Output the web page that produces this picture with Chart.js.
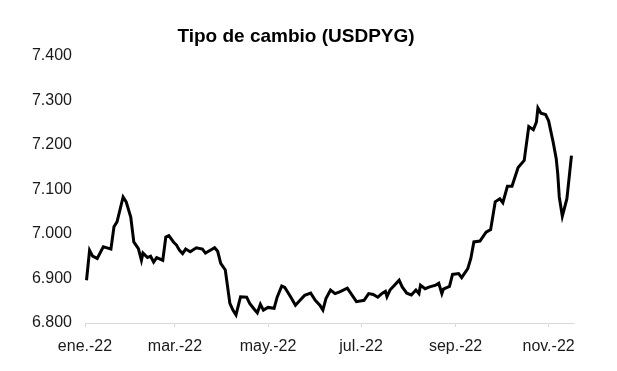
<!DOCTYPE html>
<html>
<head>
<meta charset="utf-8">
<script src="https://cdn.jsdelivr.net/npm/chart.js@4"></script>
<style>
  html, body { margin: 0; padding: 0; background: #fff; }
  #wrap { width: 617px; height: 371px; position: relative; }
</style>
</head>
<body>
<div id="wrap"><canvas id="fxChart"></canvas></div>
<script>
// days since 1 Jan 2022 and USD/PYG rate (thousands)
const days = [1, 3, 5, 8, 12, 15, 17, 19, 21, 25, 27, 30, 32, 35, 37, 38, 41, 43, 45, 47,
  51, 53, 55, 58, 60, 62, 64, 66, 69, 73, 77, 79, 83, 85, 87, 89, 92, 95, 97, 99,
  102, 106, 108, 111, 113, 115, 117, 120, 124, 126, 129, 131, 135, 138, 141, 144, 148, 151, 154, 156,
  158, 161, 164, 167, 172, 175, 178, 183, 186, 189, 192, 195, 197, 198, 200, 206, 208, 211, 214, 217,
  219, 220, 223, 226, 230, 232, 234, 235, 239, 241, 245, 247, 251, 253, 255, 259, 263, 266, 269, 272,
  274, 277, 280, 284, 288, 291, 294, 296, 297, 299, 302, 304, 307, 309, 310, 311, 313, 316, 319];
const rates = [6.896, 6.963, 6.950, 6.945, 6.971, 6.968, 6.966, 7.016, 7.027, 7.083, 7.072, 7.038, 6.982, 6.967, 6.941, 6.957, 6.947, 6.950, 6.937, 6.947,
  6.941, 6.993, 6.996, 6.982, 6.975, 6.963, 6.956, 6.966, 6.960, 6.969, 6.966, 6.957, 6.965, 6.969, 6.961, 6.934, 6.919, 6.844, 6.829, 6.818,
  6.859, 6.858, 6.844, 6.831, 6.823, 6.842, 6.829, 6.835, 6.833, 6.858, 6.883, 6.880, 6.858, 6.840, 6.851, 6.862, 6.867, 6.851, 6.840, 6.829,
  6.855, 6.874, 6.866, 6.870, 6.878, 6.863, 6.848, 6.851, 6.866, 6.864, 6.858, 6.867, 6.871, 6.859, 6.874, 6.896, 6.881, 6.867, 6.863, 6.874,
  6.866, 6.885, 6.877, 6.881, 6.885, 6.889, 6.866, 6.876, 6.882, 6.909, 6.911, 6.902, 6.922, 6.945, 6.982, 6.984, 7.004, 7.010, 7.072, 7.079,
  7.070, 7.107, 7.107, 7.149, 7.165, 7.241, 7.234, 7.251, 7.283, 7.271, 7.268, 7.254, 7.206, 7.169, 7.135, 7.083, 7.040, 7.079, 7.176];

// x tick positions (first day of every other month) and their labels
const tickDays = [0, 59, 120, 181, 243, 304];
const tickLabels = ["ene.-22", "mar.-22", "may.-22", "jul.-22", "sep.-22", "nov.-22"];

const points = days.map((d, i) => ({ x: d, y: rates[i] }));

const ctx = document.getElementById("fxChart");

new Chart(ctx, {
  type: "line",
  data: {
    datasets: [
      {
        data: points,
        borderColor: "#000000",
        borderWidth: 3,
        pointRadius: 0,
        tension: 0,
        fill: false,
      },
    ],
  },
  options: {
    responsive: true,
    maintainAspectRatio: false,
    animation: false,
    layout: { padding: { left: 19, right: 44, top: 0, bottom: 0 } },
    plugins: {
      legend: { display: false },
      tooltip: { enabled: false },
      title: {
        display: true,
        text: "Tipo de cambio (USDPYG)",
        color: "#000000",
        font: { family: "Liberation Sans, Arial, sans-serif", size: 19, weight: "bold" },
        padding: { top: 25, bottom: 8 },
      },
    },
    scales: {
      x: {
        type: "linear",
        min: 0,
        max: 320,
        afterBuildTicks: function (scale) {
          scale.ticks = tickDays.map((v) => ({ value: v }));
        },
        afterFit: function (scale) {
          scale.height = 48;
        },
        grid: {
          drawOnChartArea: false,
          drawTicks: true,
          tickLength: 4,
          color: "#d9d9d9",
        },
        border: { display: true, color: "#d9d9d9", width: 1 },
        ticks: {
          autoSkip: false,
          maxRotation: 0,
          padding: 10,
          color: "#1a1a1a",
          font: { family: "Liberation Sans, Arial, sans-serif", size: 16 },
          callback: function (value, index) {
            return tickLabels[index];
          },
        },
      },
      y: {
        min: 6.8,
        max: 7.4,
        afterFit: function (scale) {
          scale.width = 66;
        },
        grid: { display: false, drawTicks: false },
        border: { display: false },
        ticks: {
          stepSize: 0.1,
          padding: 13,
          color: "#1a1a1a",
          font: { family: "Liberation Sans, Arial, sans-serif", size: 16 },
          callback: function (value) {
            return value.toFixed(3);
          },
        },
      },
    },
  },
});
</script>
</body>
</html>
